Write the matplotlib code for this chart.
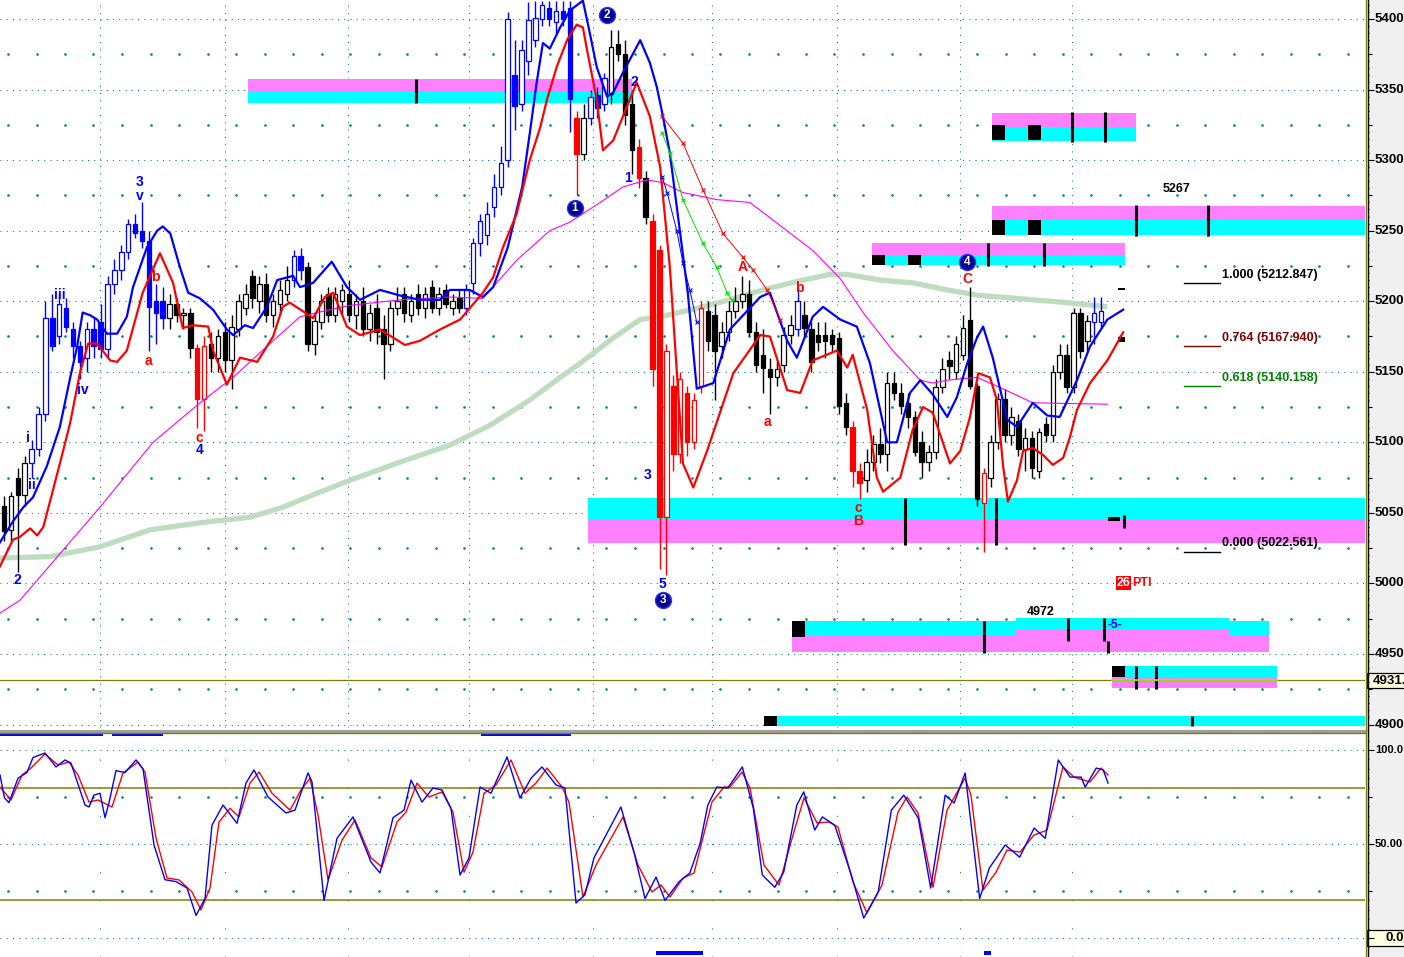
import matplotlib
matplotlib.use("Agg")
import matplotlib.pyplot as plt
from matplotlib.patches import Rectangle
from matplotlib.lines import Line2D
import numpy as np

plt.rcParams["font.family"] = ["Liberation Sans", "DejaVu Sans"]

# ---------------- data ----------------
# candles, one per bar (bar index = time)
opens = [5055, 5038, 5075, 5063, 5085, 5095, 5120, 5188, 5175, 5195,
         5180, 5168, 5160, 5180, 5185, 5166, 5212, 5222, 5235, 5255,
         5250, 5243, 5200, 5200, 5188, 5198, 5190, 5192, 5167, 5131,
         5170, 5160, 5178, 5158, 5180, 5195, 5218, 5200, 5212, 5190,
         5198, 5205, 5215, 5232, 5224, 5170, 5185, 5205, 5190, 5200,
         5205, 5190, 5200, 5180, 5195, 5180, 5170, 5195, 5205, 5190,
         5205, 5195, 5210, 5195, 5208, 5195, 5202, 5195, 5213, 5241,
         5247, 5267, 5281, 5300, 5360, 5340, 5370, 5385, 5400, 5408,
         5398, 5406, 5408, 5330, 5304, 5330, 5346, 5340, 5347, 5382,
         5375, 5340, 5309, 5287, 5257, 5236, 5047, 5140, 5092, 5135,
         5100, 5140, 5193, 5190, 5168, 5178, 5193, 5200, 5205, 5178,
         5162, 5152, 5146, 5155, 5176, 5180, 5190, 5180, 5176, 5176,
         5176, 5174, 5128, 5111, 5080, 5073, 5086, 5099, 5092, 5142,
         5135, 5128, 5118, 5100, 5086, 5093, 5139, 5158, 5150, 5162,
         5187, 5140, 5057, 5075, 5100, 5131, 5105, 5115, 5095, 5103,
         5080, 5113, 5105, 5150, 5162, 5139, 5192, 5172, 5185, 5185]
highs = [5062, 5065, 5082, 5090, 5102, 5125, 5200, 5205, 5205, 5202,
         5185, 5172, 5185, 5188, 5198, 5218, 5230, 5240, 5258, 5262,
         5270, 5250, 5212, 5210, 5205, 5202, 5195, 5195, 5170, 5175,
         5178, 5180, 5185, 5190, 5205, 5212, 5222, 5218, 5220, 5205,
         5215, 5225, 5236, 5238, 5228, 5192, 5205, 5210, 5210, 5212,
         5215, 5205, 5210, 5198, 5205, 5190, 5200, 5210, 5210, 5205,
         5212, 5210, 5215, 5210, 5212, 5205, 5208, 5212, 5245, 5262,
         5270, 5290, 5310, 5405, 5385, 5385, 5412, 5413, 5413, 5413,
         5413, 5413, 5413, 5335, 5340, 5350, 5352, 5362, 5392, 5392,
         5385, 5350, 5315, 5292, 5262, 5240, 5170, 5148, 5150, 5140,
         5135, 5200, 5200, 5198, 5185, 5200, 5210, 5218, 5215, 5185,
         5180, 5160, 5158, 5182, 5190, 5210, 5200, 5185, 5185, 5185,
         5180, 5178, 5135, 5115, 5085, 5095, 5105, 5110, 5150, 5150,
         5142, 5135, 5122, 5108, 5098, 5145, 5160, 5165, 5175, 5190,
         5210, 5142, 5082, 5105, 5135, 5138, 5125, 5120, 5110, 5108,
         5110, 5118, 5155, 5170, 5170, 5195, 5195, 5190, 5203, 5203]
lows = [5030, 5030, 5008, 5055, 5075, 5090, 5115, 5165, 5170, 5178,
        5160, 5145, 5150, 5160, 5160, 5160, 5205, 5215, 5230, 5245,
        5238, 5165, 5170, 5180, 5180, 5185, 5180, 5160, 5110, 5108,
        5150, 5150, 5150, 5138, 5175, 5190, 5195, 5192, 5185, 5182,
        5190, 5200, 5210, 5215, 5165, 5162, 5180, 5185, 5185, 5190,
        5185, 5180, 5175, 5172, 5170, 5145, 5165, 5190, 5185, 5185,
        5190, 5188, 5192, 5190, 5195, 5190, 5192, 5190, 5205, 5232,
        5240, 5260, 5275, 5295, 5321, 5335, 5360, 5380, 5395, 5395,
        5390, 5395, 5320, 5275, 5300, 5325, 5330, 5335, 5340, 5370,
        5325, 5290, 5280, 5255, 5140, 5010, 5006, 5080, 5085, 5090,
        5095, 5135, 5165, 5130, 5160, 5172, 5188, 5195, 5175, 5150,
        5135, 5120, 5140, 5150, 5170, 5175, 5175, 5150, 5165, 5160,
        5165, 5120, 5105, 5068, 5060, 5065, 5080, 5085, 5080, 5130,
        5120, 5110, 5090, 5075, 5080, 5088, 5135, 5145, 5145, 5158,
        5138, 5055, 5022, 5068, 5095, 5100, 5098, 5090, 5080, 5075,
        5075, 5100, 5100, 5145, 5135, 5135, 5160, 5165, 5170, 5180]
closes = [5037, 5062, 5063, 5085, 5095, 5120, 5188, 5168, 5198, 5182,
          5168, 5157, 5180, 5168, 5166, 5212, 5222, 5235, 5255, 5248,
          5243, 5196, 5192, 5188, 5198, 5190, 5192, 5167, 5131, 5168,
          5160, 5175, 5158, 5182, 5200, 5205, 5202, 5212, 5190, 5200,
          5208, 5215, 5232, 5222, 5170, 5186, 5200, 5190, 5205, 5208,
          5190, 5200, 5180, 5192, 5178, 5170, 5195, 5200, 5192, 5200,
          5195, 5205, 5195, 5205, 5198, 5200, 5195, 5208, 5241, 5257,
          5262, 5281, 5298, 5400, 5338, 5378, 5399, 5401, 5410, 5400,
          5406, 5400, 5343, 5304, 5330, 5345, 5337, 5358, 5380, 5375,
          5332, 5307, 5287, 5260, 5152, 5047, 5165, 5092, 5145, 5100,
          5130, 5195, 5172, 5165, 5178, 5193, 5200, 5205, 5178, 5155,
          5153, 5146, 5152, 5176, 5183, 5200, 5181, 5157, 5171, 5172,
          5170, 5126, 5111, 5080, 5071, 5086, 5099, 5092, 5142, 5135,
          5126, 5118, 5093, 5086, 5093, 5139, 5152, 5154, 5170, 5181,
          5140, 5060, 5078, 5100, 5131, 5105, 5118, 5095, 5103, 5082,
          5107, 5105, 5150, 5162, 5139, 5192, 5165, 5186, 5192, 5193]
# trend colouring of each candle: k = neutral, b = up-trend, r = down-trend
trend = ("kkkk" "bbbbbbbbbbbbbbbbbbbb" "kkkk" "rr" "kkkkkkkkkkkk" "bb"
         "kkkkkkkkkkkkkkkkkkkkkkk" "bbbbbbbbbbbbbbbb" "r" "k" "bbb" "kkkk"
         "r" "k" "rrrrrrrr" "kkkkkkkkkkkkk" "b" "kkkkkkk" "rr"
         "kkkkkkkkkkkkkkkkk" "r" "kkkkkkkkkkkkkkk" "bb")

# moving averages as (bar, price)
ma_fast = [(-0.6, 5029), (1.3, 5044), (2.8, 5054), (4.2, 5061), (6.2, 5083), (8.1, 5111),
           (9.6, 5146), (10.6, 5168), (11.4, 5192), (12.5, 5190), (13.5, 5187), (14.9, 5177),
           (16.4, 5177), (17.8, 5189), (18.7, 5210), (20.7, 5238), (22.2, 5250), (23.0, 5253),
           (24.1, 5248), (25.5, 5224), (26.7, 5206), (28.4, 5202), (30.3, 5194), (32.3, 5180),
           (33.2, 5176), (34.9, 5183), (36.1, 5181), (38.1, 5196), (39.6, 5215), (41.9, 5218),
           (42.9, 5210), (44.8, 5213), (47.5, 5228), (49.7, 5210), (51.6, 5201), (54.5, 5208),
           (57.4, 5204), (60.3, 5201), (63.2, 5201), (64.6, 5208), (67.5, 5208), (69.4, 5203),
           (70.9, 5210), (73.0, 5238), (75.1, 5281), (76.2, 5319), (77.2, 5355), (78.1, 5383),
           (79.1, 5379), (80.6, 5394), (82.0, 5406), (83.9, 5413), (84.9, 5390), (85.9, 5366),
           (87.4, 5345), (88.3, 5348), (89.7, 5362), (92.2, 5385), (93.6, 5369), (94.6, 5352),
           (95.5, 5331), (96.5, 5305), (98.0, 5248), (99.1, 5206), (100.4, 5138), (102.8, 5142),
           (105.2, 5180), (109.6, 5203), (111.0, 5206), (113.5, 5172), (114.9, 5160),
           (117.2, 5189), (118.7, 5196), (121.2, 5187), (123.6, 5182), (125.5, 5156),
           (128.0, 5100), (129.4, 5100), (131.3, 5135), (132.8, 5144), (134.6, 5134),
           (136.7, 5118), (138.1, 5132), (139.6, 5156), (141.0, 5174), (141.9, 5182),
           (143.3, 5160), (145.4, 5116), (146.8, 5111), (149.1, 5128), (151.2, 5119),
           (153.0, 5118), (155.5, 5144), (157.4, 5168), (159.9, 5187), (162.2, 5194)]
ma_slow = [(-0.6, 5012), (1.3, 5031), (2.3, 5033), (3.8, 5039), (4.8, 5034), (5.7, 5040),
           (8.1, 5085), (9.6, 5114), (11.0, 5149), (12.2, 5170), (13.5, 5170), (15.4, 5158),
           (16.4, 5157), (17.8, 5165), (20.1, 5206), (22.6, 5234), (24.5, 5213), (25.9, 5181),
           (27.4, 5183), (29.6, 5182), (30.3, 5165), (32.3, 5141), (34.2, 5160), (36.7, 5157),
           (39.0, 5175), (40.4, 5196), (41.4, 5199), (43.6, 5192), (44.8, 5188), (46.5, 5203),
           (47.7, 5206), (49.7, 5182), (51.6, 5176), (54.5, 5180), (58.1, 5169), (60.3, 5172),
           (63.2, 5180), (66.1, 5187), (69.4, 5206), (70.9, 5217), (72.3, 5238), (74.3, 5262),
           (76.2, 5300), (77.7, 5323), (78.7, 5343), (80.1, 5366), (81.6, 5385), (83.0, 5396),
           (83.9, 5394), (84.5, 5378), (85.9, 5343), (86.8, 5307), (88.3, 5314), (89.7, 5331),
           (91.7, 5355), (93.6, 5331), (95.1, 5295), (96.5, 5224), (98.4, 5085), (99.9, 5068),
           (101.9, 5094), (105.7, 5149), (109.6, 5176), (111.0, 5175), (113.5, 5137),
           (115.4, 5135), (117.2, 5158), (120.7, 5165), (122.2, 5153), (123.0, 5162),
           (125.1, 5123), (126.5, 5075), (127.4, 5065), (129.9, 5075), (131.7, 5109),
           (133.2, 5125), (134.6, 5121), (137.1, 5085), (138.6, 5094), (140.0, 5118),
           (141.2, 5149), (142.9, 5146), (143.9, 5130), (144.8, 5083), (145.5, 5058),
           (146.8, 5073), (147.7, 5094), (149.1, 5096), (150.6, 5091), (152.0, 5084),
           (153.5, 5089), (154.5, 5104), (155.5, 5123), (157.4, 5142), (159.9, 5158), (162.2, 5178)]
ma_mid = [(-0.6, 4979), (2.3, 4988), (13.9, 5054), (21.6, 5100), (28.4, 5128), (33.2, 5146),
          (38.1, 5168), (42.9, 5189), (45.4, 5192), (50.1, 5197), (57.4, 5201), (64.6, 5203),
          (69.4, 5202), (74.3, 5229), (79.1, 5250), (82.0, 5256), (86.4, 5270), (89.7, 5281),
          (93.2, 5286), (95.5, 5284), (98.4, 5277), (103.3, 5272), (108.1, 5270), (117.2, 5236),
          (121.2, 5216), (124.5, 5192), (128.8, 5165), (132.8, 5144), (134.6, 5142),
          (136.7, 5144), (141.0, 5146), (144.3, 5139), (149.1, 5128), (159.9, 5127)]
ma_long = [(-0.6, 5018), (6.7, 5019), (13.9, 5026), (21.2, 5038), (28.4, 5043), (35.7, 5047),
           (40.4, 5054), (45.4, 5064), (50.1, 5073), (57.4, 5086), (64.6, 5098), (70.4, 5112),
           (76.2, 5130), (80.6, 5146), (83.5, 5156), (88.3, 5174), (92.2, 5187), (96.1, 5190),
           (100.4, 5195), (105.2, 5201), (110.0, 5208), (114.9, 5214), (119.7, 5219),
           (122.2, 5219), (127.0, 5215), (131.7, 5213), (136.7, 5208), (141.4, 5204),
           (144.3, 5203), (149.1, 5201), (154.1, 5199), (159.9, 5196)]

# projection lines after top 2
proj_red = [(95.4, 5331), (98.4, 5312), (101.3, 5279), (104.2, 5248), (107.1, 5231),
            (108.6, 5222), (110.6, 5208), (112.5, 5187)]
proj_green = [(95.4, 5319), (96.5, 5305), (98.4, 5272), (101.3, 5241), (103.3, 5224),
              (104.8, 5206), (105.5, 5201)]
proj_blue = [(95.4, 5288), (96.1, 5277), (97.5, 5250), (98.4, 5227), (99.4, 5208), (100.4, 5185)]

# supply / demand zones (bar from, bar to, price low, price high)
zone_pink = [(35.4, 91.0, 5349.0, 5357.4), (143.2, 164.0, 5323.5, 5333.4),
             (143.2, 197.3, 5257.6, 5267.5), (125.8, 162.5, 5232.7, 5241.2),
             (84.6, 197.3, 5028.7, 5045.0), (114.2, 183.3, 4951.4, 4962.8),
             (146.7, 177.5, 4962.8, 4967.7), (160.6, 184.5, 4925.9, 4933.7)]
zone_cyan = [(35.4, 91.0, 5340.5, 5349.0), (143.2, 164.0, 5313.5, 5323.5),
             (143.2, 197.3, 5247.0, 5257.6), (125.8, 162.5, 5225.6, 5232.7),
             (84.6, 197.3, 5045.0, 5060.5), (116.1, 146.7, 4962.8, 4973.4),
             (146.7, 177.5, 4967.7, 4975.5), (177.5, 183.3, 4962.8, 4973.4),
             (162.5, 184.5, 4933.7, 4941.5), (112.0, 197.3, 4899.0, 4906.0)]
zone_blocks = [(143.2, 145.1, 5314.2, 5324.9), (148.4, 150.3, 5314.2, 5324.9),
               (143.2, 145.1, 5247.0, 5257.6), (148.4, 150.3, 5247.0, 5257.6),
               (125.8, 127.7, 5225.6, 5232.7), (131.0, 132.9, 5225.6, 5232.7),
               (114.2, 116.1, 4962.0, 4973.4), (160.6, 162.5, 4933.7, 4941.5),
               (110.1, 112.0, 4899.0, 4906.0), (160.0, 161.7, 5044.0, 5047.0),
               (161.4, 162.5, 5207.9, 5209.6), (161.4, 162.5, 5171.0, 5174.6)]
zone_ticks = [(59.7, 5340.5, 5357.4), (154.8, 5313.0, 5334.0), (159.6, 5313.0, 5334.0),
              (164.1, 5246.5, 5268.5), (174.5, 5246.5, 5268.5), (142.6, 5225.0, 5241.5),
              (150.7, 5225.0, 5241.5), (130.6, 5027.3, 5060.5), (143.8, 5027.3, 5060.5),
              (162.3, 5039.5, 5048.5), (142.0, 4950.7, 4973.4), (154.2, 4959.0, 4975.5),
              (159.4, 4959.0, 4975.5), (160.0, 4950.7, 4959.5), (164.1, 4925.5, 4941.5),
              (167.0, 4925.5, 4941.5), (172.2, 4899.0, 4906.0)]
last_price = 4931.6
zone7_mid = (160.6, 184.5, 4931.6)

# fibonacci retracement
fib_ratio = ["1.000", "0.764", "0.618", "0.000"]
fib_price = [5212.847, 5167.940, 5140.158, 5022.561]

# wave labels (bar, price, text, colour key)
wave_labels = [(2.0, 5002.4, "2", "b"), (4.06, 5069.8, "ii", "b"), (3.48, 5103.1, "i", "b"),
               (8.1, 5204.4, "iii", "b"), (11.45, 5137.1, "iv", "b"), (19.7, 5284.5, "3", "b"),
               (19.7, 5274.6, "v", "b"), (28.3, 5094.6, "4", "b"), (90.4, 5287.3, "1", "b"),
               (91.4, 5355.4, "2", "b"), (93.2, 5076.8, "3", "b"), (95.4, 4999.6, "5", "b"),
               (20.9, 5157.6, "a", "r"), (21.9, 5217.2, "b", "r"), (28.3, 5103.1, "c", "r"),
               (107.1, 5224.3, "A", "r"), (115.2, 5209.4, "b", "r"), (110.7, 5114.4, "a", "r"),
               (123.8, 5053.4, "c", "r"), (123.8, 5044.2, "B", "r"), (139.6, 5215.8, "C", "r")]
circle_labels = [(82.75, 5266.0, "1"), (87.4, 5402.8, "2"), (95.5, 4988.3, "3"), (139.6, 5227.8, "4")]

# stochastic oscillator (bar, value)
stoch_k = [(-0.58, 86.7), (0.07, 74.5), (0.72, 72), (2.03, 85), (3.33, 88), (4.2, 96), (5.94, 98.4),
           (7.54, 91), (8.84, 94.7), (9.71, 93), (11.74, 70.7), (12.32, 69.7), (13.04, 76),
           (13.91, 77), (14.64, 64), (15.22, 72), (16.23, 89), (17.54, 88), (19.13, 94.7),
           (20.14, 90), (21.74, 49.5), (23.33, 31), (24.93, 30), (26.52, 26.6), (27.83, 12),
           (29.13, 21), (30.14, 60), (31.74, 70.7), (33.77, 61), (35.07, 82.4), (36.23, 89.4),
           (38.26, 75), (40.87, 66.5), (42.17, 68), (44.06, 87.8), (44.64, 83), (46.38, 20),
           (48.26, 53), (50.58, 64.4), (53.19, 40.4), (54.49, 34.6), (56.38, 64), (57.97, 68),
           (58.99, 84), (60.58, 72.3), (62.17, 79.8), (63.48, 78.7), (64.78, 69), (66.09, 33.5),
           (67.39, 42.6), (68.99, 80.3), (70.58, 77), (72.9, 96.3), (74.78, 74.5), (76.38, 85),
           (77.97, 91), (80.0, 81.4), (81.3, 79.8), (82.9, 18.6), (84.2, 23), (85.5, 42.6),
           (89.4, 69.7), (91.3, 45.7), (92.9, 21), (94.5, 32.4), (95.8, 20), (97.8, 29.8),
           (99.4, 34.6), (100.9, 50.5), (102.0, 70.7), (103.3, 80.3), (104.9, 79.8), (107.0, 91),
           (108.6, 69), (109.9, 33.5), (111.7, 27), (113.0, 35), (114.9, 70.7), (115.9, 77.7),
           (117.5, 57.4), (118.6, 64.4), (120.4, 60), (122.8, 33.5), (124.6, 10.6), (126.7, 24.5),
           (128.6, 68), (130.4, 76), (132.5, 63.8), (134.3, 26.6), (136.4, 76), (137.7, 71.8),
           (139.3, 87.8), (141.4, 21), (142.8, 37.2), (145.1, 49.5), (147.2, 43), (149.3, 58.5),
           (150.9, 53), (152.8, 94.7), (154.5, 85.6), (156.1, 85.6), (156.7, 80.3), (158.3, 90.4),
           (159.3, 89.4), (160.0, 82.4)]
stoch_d = [(-0.58, 80.3), (1.01, 73.4), (2.61, 86.7), (3.91, 90.4), (5.94, 97.9), (7.83, 92),
           (9.42, 93.6), (10.72, 86.7), (12.32, 72.3), (13.62, 73.4), (15.65, 69.7), (17.25, 87.8),
           (19.42, 93.6), (20.43, 88.3), (22.03, 53.2), (23.62, 31.9), (25.36, 30.9), (27.25, 24.5),
           (28.55, 14.9), (29.86, 26.6), (31.16, 61.7), (32.75, 69), (34.06, 64.4), (35.65, 82.4),
           (36.96, 88.3), (38.84, 77), (41.45, 68), (43.04, 78.7), (44.35, 85), (45.51, 65.4),
           (46.96, 30.9), (48.99, 52.1), (50.87, 62.8), (53.19, 42.6), (54.78, 37.8), (56.96, 61.7),
           (58.26, 67), (59.86, 82.4), (61.59, 75), (63.48, 77.7), (65.07, 67), (66.67, 35),
           (67.97, 45.7), (69.57, 77), (71.3, 81.4), (73.48, 94.7), (75.51, 77), (77.1, 82.4),
           (78.7, 90.4), (80.87, 80.3), (81.88, 72.3), (83.91, 21.8), (85.8, 38.8), (89.71, 64.4),
           (91.88, 38.8), (93.91, 24.5), (95.22, 28.2), (96.52, 21.8), (98.41, 31.9), (100.0, 34.6),
           (102.6, 72.3), (104.35, 80.3), (105.22, 80.3), (106.96, 88.3), (108.12, 79.8),
           (110.14, 38.8), (112.32, 28.2), (114.35, 54.8), (115.94, 74.5), (117.83, 61.2),
           (119.57, 61.7), (120.87, 59), (123.04, 29.8), (125.07, 13.3), (127.25, 28.2),
           (129.57, 67), (130.87, 75), (132.46, 66.5), (134.64, 27), (136.67, 68), (139.28, 85),
           (140.14, 76), (141.88, 25.5), (143.77, 35), (145.36, 46.8), (147.25, 45.7),
           (149.28, 54.8), (151.16, 57.4), (153.48, 91), (155.07, 85.6), (157.39, 83),
           (158.99, 90.4), (160.0, 86.7)]
flags_top = [(-0.58, 14.3), (15.7, 23.0), (69.1, 82.2)]
flags_bottom = [(94.5, 101.3), (142.0, 143.0)]
day_breaks = [13.9, 32.0, 49.9, 67.4, 85.4, 102.6, 120.7, 138.6, 154.8]

# ---------------- layout ----------------
W, H = 1404, 957
PX_BAR = 6.9
XMIN = -0.58
XMAX = XMIN + 1365 / PX_BAR
P_TOP, PX_PT, MAIN_H = 5413.46, 1.4111, 728
P_BOT = P_TOP - MAIN_H / PX_PT
S_TOP, S_BOT = 109.04, -10.1

TEAL = "#008080"
OLIVE = "#808000"
COL = {"k": "#000000", "b": "#0000ff", "r": "#ff0000"}

fig = plt.figure(figsize=(W / 100, H / 100), dpi=100)
fig.patch.set_facecolor("white")
fig.patches.append(Rectangle((1368 / W, 0), 36 / W, 1, transform=fig.transFigure,
                             facecolor="#f0f0f0", edgecolor="none", zorder=-5))

ax = fig.add_axes([0, 1 - MAIN_H / H, 1365 / W, MAIN_H / H])
ax2 = fig.add_axes([0, 0, 1365 / W, 224 / H])
for a in (ax, ax2):
    a.set_xlim(XMIN, XMAX)
    a.set_axis_off()
ax.set_ylim(P_BOT, P_TOP)
ax2.set_ylim(S_BOT, S_TOP)

# grid
for p in range(4900, 5401, 50):
    ax.axhline(p, color=TEAL, lw=0.75, ls=(0, (1, 5)), zorder=0)
dot_x = np.arange(XMIN + 8 / PX_BAR, XMAX, 28.5 / PX_BAR)
for p in range(4925, 5400, 50):
    ax.plot(dot_x, [p] * len(dot_x), ls="none", marker="s", ms=0.8, color=TEAL, zorder=0)
for d in day_breaks:
    ax.axvline(d, color=TEAL, lw=0.75, ls=(0, (1, 6)), zorder=0)
    ax2.axvline(d, color=TEAL, lw=0.75, ls=(0, (1, 26)), zorder=0)
for v in (100, 50, 0):
    ax2.axhline(v, color=TEAL, lw=0.75, ls=(0, (1, 5)), zorder=0)
for v in (75, 25):
    ax2.plot(dot_x, [v] * len(dot_x), ls="none", marker="s", ms=0.8, color=TEAL, zorder=0)
for v in (80, 20):
    ax2.axhline(v, color=OLIVE, lw=1.1, zorder=1)

# zones
for x0, x1, lo, hi in zone_pink:
    ax.add_patch(Rectangle((x0, lo), x1 - x0, hi - lo, facecolor="#ff80ff", edgecolor="none", zorder=1))
for x0, x1, lo, hi in zone_cyan:
    ax.add_patch(Rectangle((x0, lo), x1 - x0, hi - lo, facecolor="#00ffff", edgecolor="none", zorder=1))
for x0, x1, lo, hi in zone_blocks:
    ax.add_patch(Rectangle((x0, lo), x1 - x0, hi - lo, facecolor="black", edgecolor="none", zorder=2))
for x, lo, hi in zone_ticks:
    ax.plot([x, x], [lo, hi], color="black", lw=2.2, solid_capstyle="butt", zorder=2)
ax.axhline(last_price, color=OLIVE, lw=0.9, zorder=2)
ax.plot(zone7_mid[:2], [zone7_mid[2]] * 2, color="#80ff00", lw=1.2, zorder=2)

# long average behind candles
ax.plot(*zip(*ma_long), color="#c0dcc0", lw=3.8, solid_capstyle="butt", zorder=2)

# candles
idx = np.arange(len(closes))
o = np.array(opens, float)
c = np.array(closes, float)
edge = [COL[k] for k in trend]
face = ["white" if cc >= oo else COL[k] for oo, cc, k in zip(o, c, trend)]
ax.vlines(idx, lows, highs, colors=edge, lw=1.0, zorder=3)
ax.bar(idx, np.maximum(np.abs(c - o), 0.8), bottom=np.minimum(o, c), width=0.66,
       color=face, edgecolor=edge, linewidth=0.9, zorder=4)

# averages
ax.plot(*zip(*ma_mid), color="#ff00ff", lw=0.8, zorder=5)
ax.plot(*zip(*ma_fast), color="#0000ff", lw=1.6, zorder=5)
ax.plot(*zip(*ma_slow), color="#ff0000", lw=1.6, zorder=5)
ax.plot(*zip(*proj_red), color="#ff0000", lw=0.7, marker="x", ms=3.5, mew=0.8, zorder=5)
ax.plot(*zip(*proj_green), color="#00e000", lw=0.7, marker="x", ms=3.5, mew=0.8, zorder=5)
ax.plot(*zip(*proj_blue), color="#0000ff", lw=0.7, marker="x", ms=3.5, mew=0.8, zorder=5)

# labels
for x, p, s, k in wave_labels:
    ax.text(x, p, s, color=COL[k], fontsize=10, fontweight="bold", ha="center", va="center", zorder=8)
for x, p, s in circle_labels:
    ax.plot(x, p, "o", ms=11.5, mfc="#000090", mec="#3030ff", mew=1.0, zorder=8)
    ax.text(x, p, s, color="white", fontsize=8.5, fontweight="bold", ha="center", va="center", zorder=9)

ax.text(170.0, 5279.5, "5267", fontsize=9, fontweight="bold", ha="center", va="center", zorder=8)
ax.text(150.3, 4979.8, "4972", fontsize=9, fontweight="bold", ha="center", va="center", zorder=8)
ax.text(161.0, 4970.6, "-5-", color="#0000ff", fontsize=8.5, fontweight="bold", ha="center", va="center", zorder=8)
ax.text(161.3, 5000.3, "26", color="white", fontsize=9, fontweight="bold", ha="left", va="center",
        bbox=dict(boxstyle="square,pad=0.05", facecolor="#ff0000", edgecolor="none"), zorder=8)
ax.text(163.45, 5000.3, "PTI", color="#ff0000", fontsize=9, fontweight="bold", ha="left", va="center", zorder=8)

fib_colors = ["#000000", "#800000", "#008000", "#000000"]
for r, p, col in zip(fib_ratio, fib_price, fib_colors):
    ax.plot([171.0, 176.2], [p, p], color=col, lw=1.0, zorder=6)
    ax.text(176.5, p + 1.5, f"{r} ({p:.3f})", color=col, fontsize=9, fontweight="bold",
            ha="left", va="bottom", zorder=8)

# oscillator
ax2.plot(*zip(*stoch_d), color="#ff0000", lw=1.0, zorder=3)
ax2.plot(*zip(*stoch_k), color="#0000ff", lw=1.0, zorder=4)
for x0, x1 in flags_top:
    ax2.add_patch(Rectangle((x0, 107.4), x1 - x0, 1.6, facecolor="#0000ff", edgecolor="none", zorder=5))
for x0, x1 in flags_bottom:
    ax2.add_patch(Rectangle((x0, -9.0), x1 - x0, 2.1, facecolor="#0000ff", edgecolor="none", zorder=5))

# price scale strip
axr = fig.add_axes([1368 / W, 1 - MAIN_H / H, 36 / W, MAIN_H / H])
axr.set_xlim(0, 36)
axr.set_ylim(P_BOT, P_TOP)
axr.set_axis_off()
axr.hlines(np.arange(4900, 5415, 5), 0, 1.2, color="black", lw=0.8)
axr.hlines(np.arange(4925, 5415, 50), 0, 3.5, color="black", lw=0.8)
axr.hlines(np.arange(4900, 5401, 50), 0, 5.5, color="black", lw=0.8)
for p in range(4900, 5401, 50):
    axr.text(7, p, str(p), fontsize=9.5, fontweight="bold", ha="left", va="center", clip_on=True)
axr.add_patch(Rectangle((-1, 4925.9), 40, 10.6, facecolor="#ffffe1", edgecolor="black", lw=0.9, clip_on=False))
axr.text(5, 4931.2, "4931.", fontsize=9.5, fontweight="bold", ha="left", va="center", clip_on=True)

axr2 = fig.add_axes([1368 / W, 0, 36 / W, 224 / H])
axr2.set_xlim(0, 36)
axr2.set_ylim(S_BOT, S_TOP)
axr2.set_axis_off()
axr2.hlines(np.arange(-5, 110, 5), 0, 1.2, color="black", lw=0.8)
axr2.hlines([25, 75], 0, 3.5, color="black", lw=0.8)
axr2.hlines([0, 50, 100], 0, 5.5, color="black", lw=0.8)
axr2.text(7, 100, "100.0", fontsize=8, fontweight="bold", ha="left", va="center", clip_on=True)
axr2.text(7, 50, "50.00", fontsize=8, fontweight="bold", ha="left", va="center", clip_on=True)
axr2.add_patch(Rectangle((-1, -4.26), 40, 8.52, facecolor="#ffffe1", edgecolor="black", lw=0.9, clip_on=False))
axr2.text(17, 0, "0.0", fontsize=9.5, fontweight="bold", ha="left", va="center", clip_on=True)

# frame lines
fig.add_artist(Line2D([0, 1365 / W], [1 - 730.5 / H] * 2, color="#a0a0a0", lw=2.2))
fig.add_artist(Line2D([0, 1365 / W], [1 - 732.5 / H] * 2, color=OLIVE, lw=1.0))
fig.add_artist(Line2D([1365.5 / W] * 2, [0, 1], color=OLIVE, lw=1.0))
fig.add_artist(Line2D([1367.5 / W] * 2, [0, 1], color="black", lw=1.0))

fig.savefig("out.png", dpi=100)
